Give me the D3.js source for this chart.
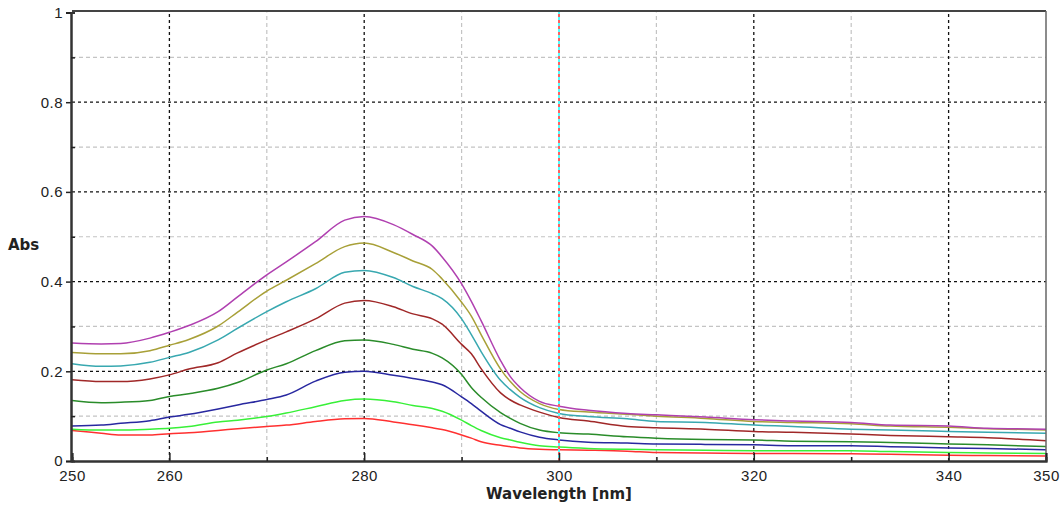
<!DOCTYPE html>
<html>
<head>
<meta charset="utf-8">
<script src="https://cdn.jsdelivr.net/npm/d3@7"></script>
<style>
  body { margin: 0; background: #fff; }
  svg { display: block; }
  .tick text { font-family: "Liberation Sans", Arial, sans-serif; font-size: 15px; fill: #222; letter-spacing: 0.5px; }
  .ttl { font-family: "DejaVu Sans", Verdana, sans-serif; font-size: 15px; font-weight: bold; fill: #222; }
</style>
</head>
<body>
<svg id="chart" width="1063" height="507"></svg>
<script>
// wavelength grid (nm)
const wavelengths = [250, 253, 255, 258, 260, 262, 265, 267, 270, 272, 275, 278, 280, 283, 285, 287, 288, 290,
  291, 292, 294, 295, 296, 298, 300, 303, 307, 310, 315, 320, 324, 330, 334, 340, 344, 350];

// absorbance traces, highest to lowest
const absPurple = [.263, .261, .262, .274, .287, .302, .333, .366, .415, .444, .489, .537, .545, .527, .505, .479, .455, .395,
  .356, .313, .224, .188, .164, .133, .122, .113, .106, .103, .098, .092, .089, .086, .080, .078, .073, .071];
const absOlive = [.242, .239, .239, .246, .258, .271, .301, .332, .379, .403, .440, .478, .486, .465, .446, .427, .406, .354,
  .323, .282, .205, .177, .155, .128, .115, .109, .104, .100, .095, .088, .086, .083, .078, .075, .072, .069];
const absTeal = [.217, .211, .212, .220, .231, .242, .270, .296, .333, .355, .384, .421, .425, .409, .389, .373, .362, .317,
  .282, .244, .180, .159, .142, .119, .106, .099, .094, .088, .086, .080, .077, .071, .069, .066, .064, .062];
const absBrown = [.181, .177, .177, .183, .192, .205, .219, .241, .270, .288, .317, .352, .358, .344, .328, .317, .305, .260,
  .239, .206, .152, .136, .125, .109, .097, .089, .077, .074, .071, .066, .064, .060, .057, .054, .052, .045];
const absGreen = [.135, .130, .131, .135, .144, .150, .162, .175, .203, .217, .246, .268, .270, .260, .249, .240, .230, .193,
  .164, .142, .108, .095, .084, .069, .063, .060, .054, .051, .048, .047, .044, .043, .041, .038, .036, .032];
const absBlue = [.078, .080, .084, .090, .098, .104, .116, .125, .137, .147, .178, .198, .200, .191, .184, .176, .170, .143,
  .128, .111, .081, .073, .065, .053, .047, .042, .040, .038, .037, .036, .034, .034, .032, .029, .028, .025];
const absLime = [.071, .069, .069, .071, .073, .077, .087, .091, .099, .107, .121, .135, .138, .132, .124, .117, .111, .091,
  .079, .068, .052, .047, .042, .034, .031, .028, .026, .025, .024, .023, .023, .023, .021, .019, .018, .017];
const absRed = [.068, .062, .058, .058, .061, .063, .068, .072, .077, .080, .088, .094, .095, .087, .081, .074, .070, .058,
  .051, .043, .035, .032, .029, .026, .025, .024, .022, .019, .018, .017, .017, .016, .015, .013, .012, .011];

const traces = [
  {values: absRed, color: '#ff3030'},
  {values: absLime, color: '#38f038'},
  {values: absBlue, color: '#2828a0'},
  {values: absGreen, color: '#2a8c2a'},
  {values: absBrown, color: '#a02828'},
  {values: absTeal, color: '#38a8b0'},
  {values: absOlive, color: '#a8a038'},
  {values: absPurple, color: '#b040b0'}
];

const xTicks = [250, 260, 280, 300, 320, 340, 350];
const xMajorGrid = [260, 280, 320, 340];
const xMinorGrid = [270, 290, 310, 330];
const yTicks = [0, 0.2, 0.4, 0.6, 0.8, 1];
const yMajorGrid = [0.2, 0.4, 0.6, 0.8];
const yMinorGrid = [0.1, 0.3, 0.5, 0.7, 0.9];
const cursorAt = 300;

const svg = d3.select('svg#chart');
const plotLeft = 72, plotRight = 1046, plotTop = 12.5, plotBottom = 461;

const x = d3.scaleLinear().domain([250, 350]).range([plotLeft, plotRight]);
const y = d3.scaleLinear().domain([0, 1]).range([plotBottom, plotTop]);

// grid
const grid = svg.append('g');
grid.selectAll('line.vmin').data(xMinorGrid).enter().append('line')
  .attr('x1', d => x(d)).attr('x2', d => x(d)).attr('y1', plotBottom).attr('y2', plotTop)
  .attr('stroke', '#c4c4c4').attr('stroke-width', 1.2).attr('stroke-dasharray', '4,3');
grid.selectAll('line.hmin').data(yMinorGrid).enter().append('line')
  .attr('x1', plotLeft).attr('x2', plotRight).attr('y1', d => y(d)).attr('y2', d => y(d))
  .attr('stroke', '#c4c4c4').attr('stroke-width', 1.2).attr('stroke-dasharray', '4,3');
grid.selectAll('line.vmaj').data(xMajorGrid).enter().append('line')
  .attr('x1', d => x(d)).attr('x2', d => x(d)).attr('y1', plotBottom).attr('y2', plotTop)
  .attr('stroke', '#111').attr('stroke-width', 1.3).attr('stroke-dasharray', '3,3');
grid.selectAll('line.hmaj').data(yMajorGrid).enter().append('line')
  .attr('x1', plotLeft).attr('x2', plotRight).attr('y1', d => y(d)).attr('y2', d => y(d))
  .attr('stroke', '#111').attr('stroke-width', 1.3).attr('stroke-dasharray', '3,3');

// traces
const line = d3.line().x((d, i) => x(wavelengths[i])).y(d => y(d)).curve(d3.curveMonotoneX);
svg.append('g').selectAll('path').data(traces).enter().append('path')
  .attr('d', d => line(d.values))
  .attr('fill', 'none')
  .attr('stroke', d => d.color)
  .attr('stroke-width', 1.5);

// cursor line
svg.append('line').attr('x1', x(cursorAt)).attr('x2', x(cursorAt)).attr('y1', plotBottom).attr('y2', plotTop - 1)
  .attr('stroke', '#50ffff').attr('stroke-width', 2);
svg.append('line').attr('x1', x(cursorAt)).attr('x2', x(cursorAt)).attr('y1', plotBottom).attr('y2', plotTop - 1)
  .attr('stroke', '#ff6060').attr('stroke-width', 2).attr('stroke-dasharray', '3,3');

// frame
svg.append('line').attr('x1', plotLeft).attr('x2', plotRight).attr('y1', plotTop - 1.5).attr('y2', plotTop - 1.5)
  .attr('stroke', '#444').attr('stroke-width', 2);
svg.append('line').attr('x1', plotRight).attr('x2', plotRight).attr('y1', plotTop - 1.5).attr('y2', plotBottom)
  .attr('stroke', '#666').attr('stroke-width', 1.5);

// axes
svg.append('g').attr('transform', `translate(0,${plotBottom})`)
  .call(d3.axisBottom(x).tickValues(xTicks).tickSize(-8).tickPadding(9).tickFormat(d3.format('d')));
svg.append('g').attr('transform', `translate(0,${plotBottom})`)
  .call(d3.axisBottom(x).tickValues(xMinorGrid).tickSize(-4).tickFormat(''));
svg.append('g').attr('transform', `translate(${plotLeft - 1},0)`)
  .call(d3.axisLeft(y).tickValues(yTicks).tickSize(5).tickPadding(3).tickFormat(d => d3.format('~g')(d)));
svg.append('g').attr('transform', `translate(${plotLeft - 1},0)`)
  .call(d3.axisLeft(y).tickValues(yMinorGrid).tickSize(-4).tickFormat(''));

svg.selectAll('.domain').attr('stroke', '#333').attr('stroke-width', 2);
svg.selectAll('.tick line').attr('stroke', '#222').attr('stroke-width', 1.5);

// titles
svg.append('text').attr('class', 'ttl').attr('x', 8).attr('y', 250).text('Abs');
svg.append('text').attr('class', 'ttl').attr('x', x(300)).attr('y', 499)
  .attr('text-anchor', 'middle').text('Wavelength [nm]');
</script>
</body>
</html>
